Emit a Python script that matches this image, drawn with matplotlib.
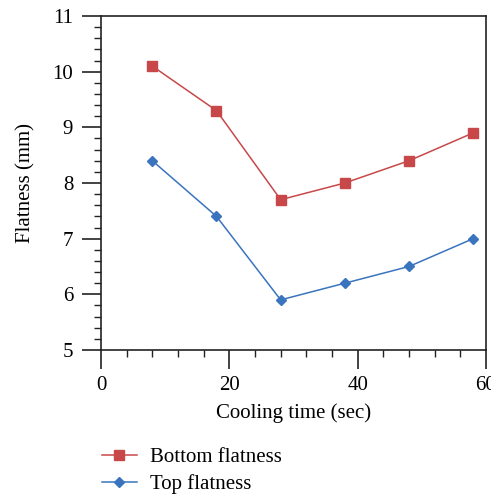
import matplotlib
matplotlib.use("Agg")
import matplotlib.pyplot as plt
from matplotlib.ticker import MultipleLocator

cooling_time = [8, 18, 28, 38, 48, 58]
bottom_flatness = [10.1, 9.3, 7.7, 8.0, 8.4, 8.9]
top_flatness = [8.4, 7.4, 5.9, 6.2, 6.5, 7.0]

RED, BLUE = "#C8484A", "#3A74BF"
plt.rcParams.update({"font.family": "Liberation Serif", "font.size": 15})

fig = plt.figure(figsize=(4.91, 4.96), dpi=100)
ax = fig.add_axes([0.2057, 0.2944, 0.7841, 0.6733])

l1, = ax.plot(cooling_time, bottom_flatness, "-s", color=RED, lw=1.1, ms=6.5,
              label="Bottom flatness")
l2, = ax.plot(cooling_time, top_flatness, "-D", color=BLUE, lw=1.1, ms=5.5,
              label="Top flatness")

ax.set_xlim(0, 60); ax.set_ylim(5, 11)
ax.xaxis.set_major_locator(MultipleLocator(20)); ax.xaxis.set_minor_locator(MultipleLocator(4))
ax.yaxis.set_major_locator(MultipleLocator(1)); ax.yaxis.set_minor_locator(MultipleLocator(0.2))
ax.tick_params(which="major", direction="out", length=14, width=1.2, color="#222222")
ax.tick_params(which="minor", direction="out", length=5, width=1.0, color="#222222")
ax.tick_params(axis="x", pad=5); ax.tick_params(axis="y", pad=6)
for s in ax.spines.values():
    s.set_linewidth(1.2); s.set_color("#222222")
ax.set_xlabel("Cooling time (sec)", labelpad=6)
ax.set_ylabel("Flatness (mm)", labelpad=12)

fig.legend(handles=[l1, l2], loc="upper left", bbox_to_anchor=(0.19, 0.115),
           frameon=False, handlelength=1.7, handletextpad=0.6, labelspacing=0.35,
           borderaxespad=0)

fig.savefig("out.png", dpi=100)
